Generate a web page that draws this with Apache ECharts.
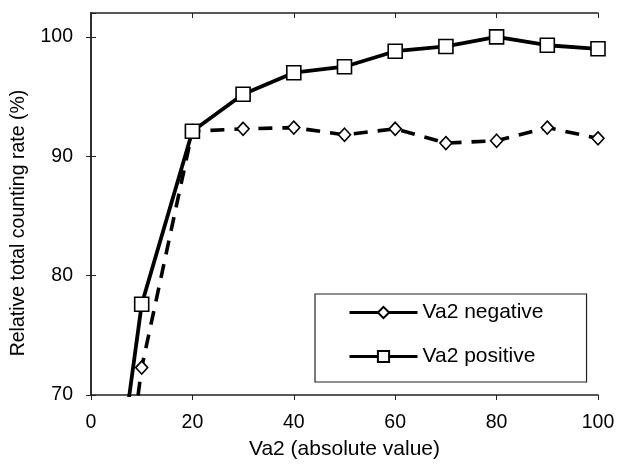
<!DOCTYPE html>
<html>
<head>
<meta charset="utf-8">
<script src="https://cdn.jsdelivr.net/npm/echarts@6/dist/echarts.min.js"></script>
<style>html,body{margin:0;padding:0;background:#fff;}#c{width:624px;height:466px;}</style>
</head>
<body>
<div id="c"></div>
<script>
var xValues = [5, 10, 20, 30, 40, 50, 60, 70, 80, 90, 100];
var negValues = [56, 72.3, 92.1, 92.3, 92.4, 91.8, 92.3, 91.1, 91.3, 92.4, 91.5];
var posValues = [62, 77.6, 92.1, 95.2, 97.0, 97.5, 98.8, 99.2, 100.0, 99.3, 99.0];
var seriesNames = ['Va2 negative', 'Va2 positive'];
var xTitle = 'Va2 (absolute value)';
var yTitle = 'Relative total counting rate (%)';

function pairs(ys) { return xValues.map(function (x, i) { return [x, ys[i]]; }); }

var FONT = '"Liberation Sans", Arial, sans-serif';
var axisLine = { show: true, lineStyle: { color: '#222', width: 1.5 } };

var chart = echarts.init(document.getElementById('c'), null, { renderer: 'canvas' });
chart.setOption({
  backgroundColor: '#fff',
  animation: false,
  grid: { left: 91, right: 26, top: 13, bottom: 71 },
  legend: {
    orient: 'vertical',
    left: 315, top: 294,
    padding: [8, 43, 15, 33],
    itemGap: 23,
    itemWidth: 68, itemHeight: 14,
    itemTextGap: 12,
    backgroundColor: '#fff',
    borderColor: '#222', borderWidth: 1.2,
    lineStyle: { width: 3, type: 'solid', color: '#000' },
    textStyle: { fontFamily: FONT, fontSize: 21, color: '#000', lineHeight: 20 },
    data: seriesNames
  },
  xAxis: [{
    type: 'value', min: 0, max: 100, interval: 20,
    name: xTitle, nameLocation: 'middle', nameGap: 44,
    nameTextStyle: { fontFamily: FONT, fontSize: 21, color: '#000' },
    axisLine: axisLine,
    axisTick: { show: true, length: 5, lineStyle: { color: '#222' } },
    axisLabel: { fontFamily: FONT, fontSize: 19.5, color: '#000', margin: 18 },
    splitLine: { show: false }
  }, {
    type: 'value', min: 0, max: 100, interval: 20, position: 'top',
    axisLine: axisLine,
    axisTick: { show: true, inside: true, length: 5, lineStyle: { color: '#222' } },
    axisLabel: { show: false }, splitLine: { show: false }
  }],
  yAxis: [{
    type: 'value', min: 70, max: 102, interval: 10,
    name: yTitle, nameLocation: 'middle', nameGap: 62,
    nameTextStyle: { fontFamily: FONT, fontSize: 19.5, color: '#000', padding: [0, 38, 0, 0] },
    axisLine: axisLine,
    axisTick: { show: true, length: 5, lineStyle: { color: '#222' } },
    axisLabel: { fontFamily: FONT, fontSize: 19.5, color: '#000', margin: 18, showMaxLabel: false },
    splitLine: { show: false }
  }, {
    type: 'value', min: 70, max: 102, interval: 10, position: 'right',
    axisLine: axisLine,
    axisTick: { show: true, length: 5, lineStyle: { color: '#222' } },
    axisLabel: { show: false }, splitLine: { show: false }
  }],
  series: [{
    name: seriesNames[0], type: 'line', xAxisIndex: 0, yAxisIndex: 0,
    data: pairs(negValues),
    clip: true,
    symbol: 'diamond', symbolSize: [12, 13],
    lineStyle: { color: '#000', width: 3.6, type: [14, 10] },
    itemStyle: { color: '#fff', borderColor: '#000', borderWidth: 1.6 },
    z: 2
  }, {
    name: seriesNames[1], type: 'line', xAxisIndex: 0, yAxisIndex: 0,
    data: pairs(posValues),
    clip: true,
    symbol: 'rect', symbolSize: 14,
    lineStyle: { color: '#000', width: 3.8 },
    itemStyle: { color: '#fff', borderColor: '#000', borderWidth: 1.6 },
    z: 3
  }]
});
</script>
</body>
</html>
